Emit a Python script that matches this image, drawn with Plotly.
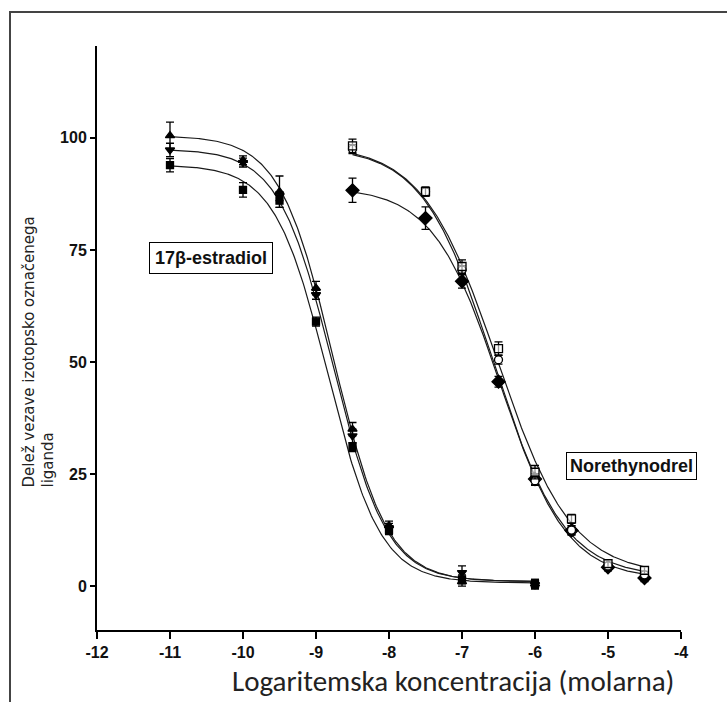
import numpy as np
import plotly.graph_objects as go

# ---------------- data ----------------
x_estr = [-11, -10, -9.5, -9, -8.5, -8, -7, -6]
estr_up = [100.5, 95.0, 88.0, 66.5, 35.0, 13.5, 1.0, 0.5]
estr_up_err = [3.0, 1.0, 3.5, 1.5, 1.5, 1.0, 1.0, 1.0]
estr_dn = [97.3, 94.5, 87.0, 65.0, 33.5, 13.0, 3.0, 0.3]
estr_dn_err = [1.5, 1.0, 1.0, 1.0, 1.5, 1.0, 1.5, 1.0]
estr_sq = [93.9, 88.4, 86.0, 59.0, 31.0, 12.5, 1.5, 0.5]
estr_sq_err = [1.5, 1.6, 1.5, 1.0, 1.0, 1.0, 1.0, 1.0]

x_nor = [-8.5, -7.5, -7, -6.5, -6, -5.5, -5, -4.5]
nor_sq = [98.2, 88.0, 71.3, 53.0, 25.4, 15.0, 5.0, 3.5]
nor_sq_err = [1.5, 1.0, 1.5, 1.5, 1.5, 1.0, 0.8, 0.8]
nor_ci = [97.5, 88.0, 70.5, 50.5, 23.5, 12.5, 4.5, 2.5]
nor_ci_err = [1.0, 1.0, 1.0, 1.0, 1.0, 1.0, 0.8, 0.8]
nor_di = [88.3, 82.1, 68.0, 45.6, 23.9, 12.4, 4.2, 1.8]
nor_di_err = [2.7, 2.5, 1.5, 1.2, 1.2, 1.0, 0.8, 0.8]

# fitted sigmoid parameters (top, bottom, logIC50, hill)
fit_estr_up = (100.5, 1.0, -8.76, 1.18)
fit_estr_dn = (97.5, 1.0, -8.77, 1.18)
fit_estr_sq = (94.0, 0.7, -8.84, 1.2)
fit_nor_sq = (98.5, 2.5, -6.52, 0.85)
fit_nor_ci = (98.0, 2.0, -6.57, 0.9)
fit_nor_di = (89.0, 1.5, -6.48, 0.95)

x_ticks = [-12, -11, -10, -9, -8, -7, -6, -5, -4]
y_ticks = [0, 25, 50, 75, 100]


def sigmoid(xs, p):
    top, bottom, c, h = p
    xs = np.asarray(xs)
    return bottom + (top - bottom) / (1 + 10 ** ((xs - c) * h))


fig = go.Figure()

xe = np.linspace(-11, -6, 300)
xn = np.linspace(-8.5, -4.5, 300)
for xs, p in [(xe, fit_estr_up), (xe, fit_estr_dn), (xe, fit_estr_sq),
              (xn, fit_nor_sq), (xn, fit_nor_ci), (xn, fit_nor_di)]:
    fig.add_trace(go.Scatter(x=xs, y=sigmoid(xs, p), mode="lines",
                             line=dict(color="#1a1a1a", width=1.2),
                             hoverinfo="skip", showlegend=False))


def pts(x, y, err, symbol, size, fill="black"):
    fig.add_trace(go.Scatter(
        x=x, y=y, mode="markers", showlegend=False,
        marker=dict(symbol=symbol, size=size, color=fill,
                    line=dict(color="black", width=1.3)),
        error_y=dict(type="data", array=err, visible=True,
                     color="black", thickness=1.3, width=4)))


pts(x_estr, estr_sq, estr_sq_err, "square", 7)
pts(x_estr, estr_dn, estr_dn_err, "triangle-down", 8)
pts(x_estr, estr_up, estr_up_err, "triangle-up", 8)
pts(x_nor, nor_di, nor_di_err, "diamond", 10)
pts(x_nor, nor_ci, nor_ci_err, "circle", 8, fill="white")
pts(x_nor, nor_sq, nor_sq_err, "square", 8, fill="rgba(255,255,255,0.6)")

L, R, T, B = 97, 46, 46, 72
W, H = 727, 702
pw, ph = W - L - R, H - T - B


def px_x(p):
    return (p - L) / pw


def px_y(p):
    return (H - B - p) / ph


tickfont = dict(family="Liberation Sans, Arial, sans-serif", size=16,
                color="#111", weight="bold")

fig.update_layout(
    width=W, height=H,
    margin=dict(l=L, r=R, t=T, b=B),
    paper_bgcolor="white", plot_bgcolor="white",
    xaxis=dict(range=[-12, -4], tickmode="array", tickvals=x_ticks,
               ticktext=[str(v) for v in x_ticks],
               showgrid=False, zeroline=False, showline=True,
               linecolor="black", linewidth=2, ticks="outside",
               ticklen=7, tickwidth=2, tickcolor="black",
               tickfont=tickfont),
    yaxis=dict(range=[-9.8, 120.5], tickmode="array", tickvals=y_ticks,
               ticktext=[str(v) for v in y_ticks],
               showgrid=False, zeroline=False, showline=True,
               linecolor="black", linewidth=2, ticks="outside",
               ticklen=5, tickwidth=2, tickcolor="black",
               tickfont=tickfont),
    shapes=[dict(type="rect", xref="paper", yref="paper",
                 x0=px_x(10), x1=px_x(760), y0=px_y(740), y1=px_y(12),
                 line=dict(color="#444", width=2), layer="below")],
    annotations=[
        dict(x=-10.44, y=73.2, xref="x", yref="y", text="17β-estradiol",
             showarrow=False, font=dict(family="Liberation Sans, Arial", size=18,
                                        color="#111", weight="bold"),
             bordercolor="black", borderwidth=1, borderpad=5, bgcolor="white"),
        dict(x=-4.675, y=26.7, xref="x", yref="y", text="Norethynodrel",
             showarrow=False, font=dict(family="Liberation Sans, Arial", size=18,
                                        color="#111", weight="bold"),
             bordercolor="black", borderwidth=1, borderpad=3, bgcolor="white"),
        dict(x=px_x(38.5), y=px_y(352), xref="paper", yref="paper",
             xanchor="center", yanchor="middle",
             text="Delež vezave izotopsko označenega<br>liganda",
             textangle=-90, align="left", showarrow=False,
             font=dict(family="DejaVu Sans, Arial", size=15, color="#222")),
        dict(x=px_x(453), y=px_y(681), xref="paper", yref="paper",
             xanchor="center", yanchor="middle",
             text="Logaritemska koncentracija (molarna)", showarrow=False,
             font=dict(family="Carlito, Lato, sans-serif", size=29, color="#222")),
    ],
)

fig.write_html("out.html")
